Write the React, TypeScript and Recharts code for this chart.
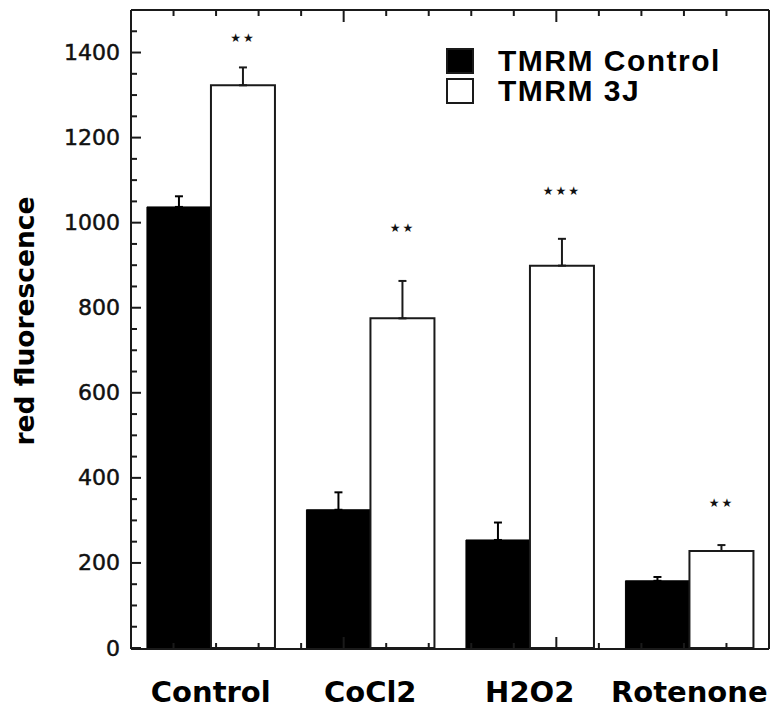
import React from "react";
import {
  BarChart,
  Bar,
  XAxis,
  YAxis,
  ErrorBar,
  LabelList,
  Legend,
} from "recharts";

// values
const categories = ["Control", "CoCl2", "H2O2", "Rotenone"];
const ctrlValues = [1037, 325, 254, 158];
const ctrlErrors = [25, 41, 41, 9];
const tjValues = [1323, 775, 899, 228];
const tjErrors = [42, 88, 63, 14];
const stars = ["**", "**", "***", "**"];
const starLevels = [1434, 988, 1074, 341];

const seriesNames = ["TMRM Control", "TMRM 3J"];
const seriesFills = ["#000", "#fff"];

const yTicks = Array.from({ length: 31 }, (_, i) => i * 50);
const frameTicks = Array.from({ length: 21 }, (_, i) => i / 5);

const data = categories.map((name, i) => ({
  name,
  ctrl: ctrlValues[i],
  ctrlErr: [0, ctrlErrors[i]],
  tj: tjValues[i],
  tjErr: [0, tjErrors[i]],
  stars: stars[i],
}));

const INK = "#1a1a1a";

const CategoryTick = ({ x, payload }: any) => (
  <text
    x={x}
    y={702}
    textAnchor="middle"
    fontFamily="DejaVu Sans"
    fontWeight="bold"
    fontSize={29}
    fill="#000"
  >
    {payload.value}
  </text>
);

const frameTick = (side: "top" | "bottom") => ({ x, y, payload }: any) => {
  const len = Number.isInteger(payload.value) ? 12 : 6;
  const dir = side === "bottom" ? -1 : 1;
  return <line x1={x} y1={y} x2={x} y2={y + dir * len} stroke={INK} strokeWidth={2} />;
};

const LeftTick = ({ x, y, payload }: any) => {
  const major = payload.value % 200 === 0;
  return (
    <g>
      <line x1={x} y1={y} x2={x + (major ? 10 : 6)} y2={y} stroke={INK} strokeWidth={2} />
      {major && (
        <text
          x={x - 11}
          y={y}
          textAnchor="end"
          dominantBaseline="central"
          fontFamily="DejaVu Sans"
          fontSize={22}
          fill="#111"
          stroke="#111"
          strokeWidth={0.5}
        >
          {payload.value}
        </text>
      )}
    </g>
  );
};

const RightTick = ({ x, y, payload }: any) => {
  const major = payload.value % 200 === 0;
  return <line x1={x} y1={y} x2={x - (major ? 10 : 6)} y2={y} stroke={INK} strokeWidth={2} />;
};

const StarLabel = ({ x, y, width, height, index, value }: any) => {
  const perUnit = height / tjValues[index];
  const sy = y + height - starLevels[index] * perUnit;
  return (
    <text
      x={x + width / 2}
      y={sy}
      textAnchor="middle"
      dominantBaseline="central"
      fontFamily="DejaVu Sans"
      fontSize={12}
      letterSpacing={2}
      fill="#111"
    >
      {String(value).replace(/\*/g, "★")}
    </text>
  );
};

const YTitle = ({ viewBox }: any) => {
  const cy = viewBox.y + viewBox.height / 2 - 8;
  return (
    <text
      x={34}
      y={cy}
      transform={`rotate(-90, 34, ${cy})`}
      textAnchor="middle"
      fontFamily="DejaVu Sans"
      fontWeight="bold"
      fontSize={26.5}
      fill="#000"
    >
      red fluorescence
    </text>
  );
};

const LegendBox = () => (
  <div style={{ fontFamily: "Liberation Sans", fontWeight: "bold", fontSize: 30, lineHeight: "30px", letterSpacing: 1.5 }}>
    {seriesNames.map((n, i) => (
      <div key={n} style={{ display: "flex", alignItems: "center", height: 30 }}>
        <span
          style={{
            display: "block",
            width: 28,
            height: 26,
            boxSizing: "border-box",
            border: `2px solid ${INK}`,
            background: seriesFills[i],
            marginRight: 24,
          }}
        />
        <span style={{ display: "block", height: 30, color: "#000", whiteSpace: "nowrap" }}>{n}</span>
      </div>
    ))}
  </div>
);

export default function App() {
  return (
    <div style={{ position: "absolute", left: 0, top: 0, background: "#fff" }}>
      <BarChart
        width={782}
        height={712}
        data={data}
        margin={{ top: 9, right: 12, bottom: 62, left: 130 }}
        barCategoryGap="10%"
        barGap={0}
      >
        <XAxis
          xAxisId="fb"
          type="number"
          domain={[0, 4]}
          ticks={frameTicks}
          orientation="bottom"
          height={1}
          axisLine={{ stroke: INK, strokeWidth: 2 }}
          tickLine={false}
          tickSize={0}
          tickMargin={0}
          interval={0}
          tick={frameTick("bottom")}
        />
        <XAxis
          xAxisId="cat"
          dataKey="name"
          height={1}
          axisLine={false}
          tickLine={false}
          tickSize={0}
          tickMargin={0}
          interval={0}
          tick={CategoryTick}
        />
        <XAxis
          xAxisId="ft"
          type="number"
          domain={[0, 4]}
          ticks={frameTicks}
          orientation="top"
          height={1}
          axisLine={{ stroke: INK, strokeWidth: 2 }}
          tickLine={false}
          tickSize={0}
          tickMargin={0}
          interval={0}
          tick={frameTick("top")}
        />
        <YAxis
          yAxisId="l"
          domain={[0, 1500]}
          ticks={yTicks}
          width={1}
          axisLine={{ stroke: INK, strokeWidth: 2 }}
          tickLine={false}
          tickSize={0}
          tickMargin={0}
          interval={0}
          tick={LeftTick}
          label={{ content: YTitle }}
        />
        <YAxis
          yAxisId="r"
          orientation="right"
          domain={[0, 1500]}
          ticks={yTicks}
          width={1}
          axisLine={{ stroke: INK, strokeWidth: 2 }}
          tickLine={false}
          tickSize={0}
          tickMargin={0}
          interval={0}
          tick={RightTick}
        />
        <Legend
          layout="horizontal"
          verticalAlign="middle"
          align="center"
          wrapperStyle={{ left: 446, top: 46, width: "auto", height: "auto" }}
          content={LegendBox}
        />
        <Bar
          xAxisId="cat"
          yAxisId="l"
          dataKey="ctrl"
          name={seriesNames[0]}
          fill={seriesFills[0]}
          stroke="#000"
          strokeWidth={1}
          isAnimationActive={false}
        >
          <ErrorBar dataKey="ctrlErr" direction="y" width={4} stroke="#000" strokeWidth={2} />
        </Bar>
        <Bar
          xAxisId="cat"
          yAxisId="l"
          dataKey="tj"
          name={seriesNames[1]}
          fill={seriesFills[1]}
          stroke={INK}
          strokeWidth={2}
          isAnimationActive={false}
        >
          <ErrorBar dataKey="tjErr" direction="y" width={4} stroke={INK} strokeWidth={2} />
          <LabelList dataKey="stars" content={StarLabel} />
        </Bar>
      </BarChart>
    </div>
  );
}
